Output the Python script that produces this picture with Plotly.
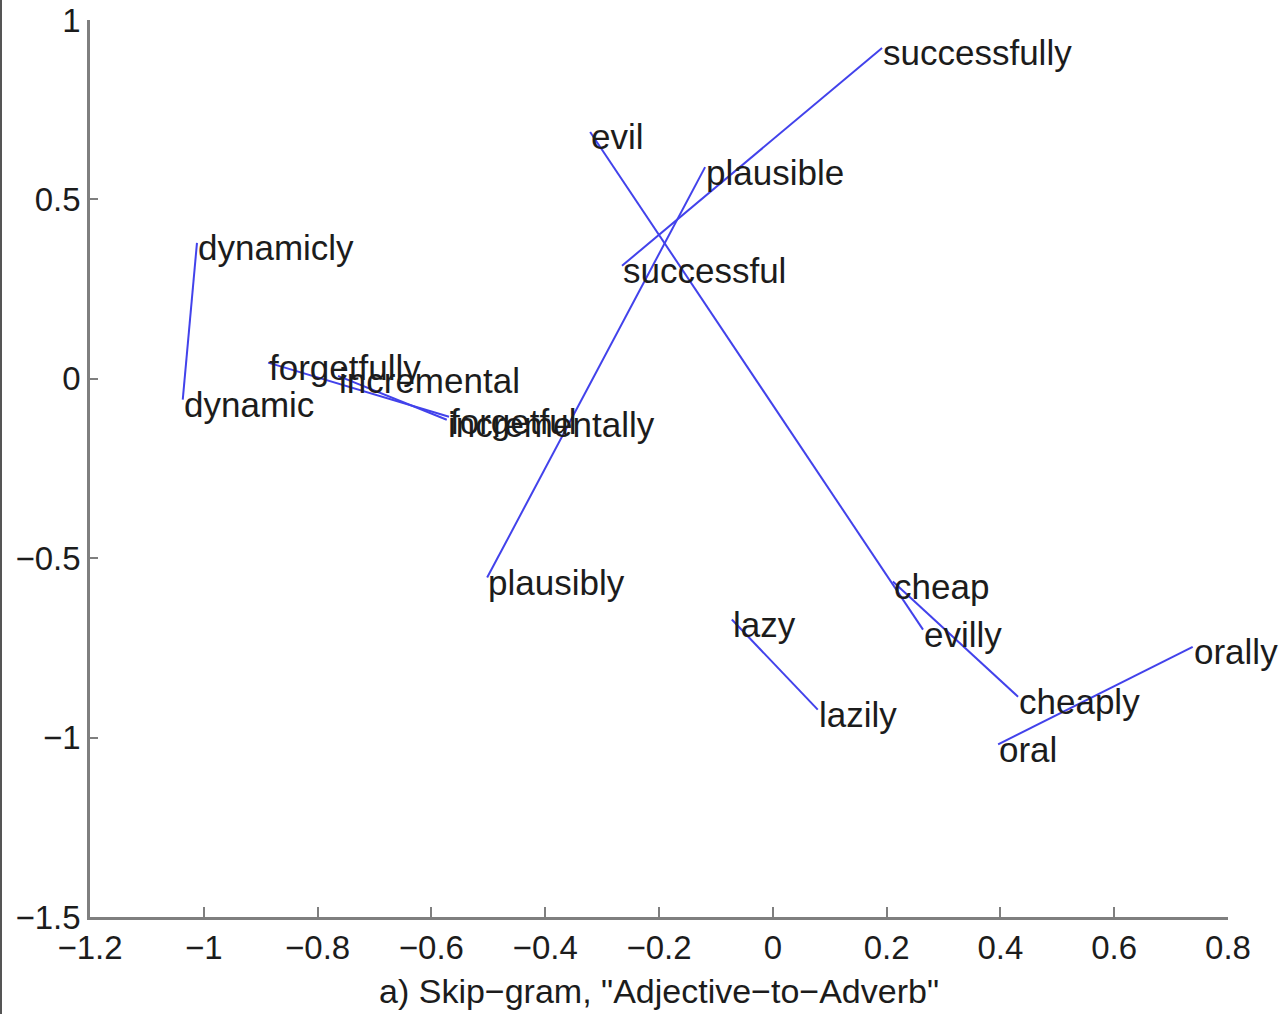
import plotly.graph_objects as go

# Word pairs (adjective -> adverb) projected to 2-D
adjectives = ["dynamic", "forgetful", "incremental", "plausible", "successful",
              "evil", "cheap", "oral", "lazy"]
adverbs = ["dynamicly", "forgetfully", "incrementally", "plausibly", "successfully",
           "evilly", "cheaply", "orally", "lazily"]

adj_x = [-1.037, -0.569, -0.764, -0.119, -0.265, -0.321, 0.211, 0.396, -0.072]
adj_y = [-0.058, -0.106, 0.008, 0.590, 0.315, 0.688, -0.565, -1.019, -0.671]
adv_x = [-1.012, -0.887, -0.573, -0.502, 0.192, 0.264, 0.431, 0.738, 0.079]
adv_y = [0.379, 0.045, -0.114, -0.554, 0.922, -0.699, -0.886, -0.747, -0.922]

x_ticks = [-1.2, -1.0, -0.8, -0.6, -0.4, -0.2, 0.0, 0.2, 0.4, 0.6, 0.8]
x_tick_labels = ["−1.2", "−1", "−0.8", "−0.6", "−0.4", "−0.2", "0", "0.2", "0.4", "0.6", "0.8"]
y_ticks = [-1.5, -1.0, -0.5, 0.0, 0.5, 1.0]
y_tick_labels = ["−1.5", "−1", "−0.5", "0", "0.5", "1"]

LINE_COLOR = "rgb(66,66,235)"
TEXT_COLOR = "#1c1c1c"
AXIS_COLOR = "#7f7f7f"
FONT = "Liberation Sans, Arial, sans-serif"

fig = go.Figure()

# connecting segments for each pair
for ax_, ay_, bx_, by_ in zip(adj_x, adj_y, adv_x, adv_y):
    fig.add_trace(go.Scatter(
        x=[ax_, bx_], y=[ay_, by_], mode="lines",
        line=dict(color=LINE_COLOR, width=2),
        hoverinfo="skip", showlegend=False, cliponaxis=False,
    ))

# word labels, left edge at each point
for wx, wy, word in zip(adj_x + adv_x, adj_y + adv_y, adjectives + adverbs):
    fig.add_annotation(
        x=wx, y=wy, text=word, showarrow=False,
        xanchor="left", yanchor="middle", xshift=-1, yshift=-5,
        font=dict(family=FONT, size=35, color=TEXT_COLOR),
    )

fig.update_layout(
    width=1279, height=1014,
    margin=dict(l=90, r=51, t=20, b=97, autoexpand=False),
    plot_bgcolor="white", paper_bgcolor="white",
    font=dict(family=FONT, color=TEXT_COLOR),
    showlegend=False,
)

fig.update_xaxes(
    range=[-1.2, 0.8], tickvals=x_ticks, ticktext=x_tick_labels,
    showgrid=False, zeroline=False, showline=True, automargin=False,
    linecolor=AXIS_COLOR, linewidth=2.5,
    ticks="inside", ticklen=10, tickwidth=1.5, tickcolor=AXIS_COLOR,
    tickfont=dict(family=FONT, size=33, color=TEXT_COLOR),
    title=dict(text='a) Skip−gram, "Adjective−to−Adverb"',
               font=dict(family=FONT, size=34, color=TEXT_COLOR), standoff=14),
)
fig.update_yaxes(
    range=[-1.5, 1.0], tickvals=y_ticks, ticktext=y_tick_labels,
    showgrid=False, zeroline=False, showline=True, automargin=False,
    linecolor=AXIS_COLOR, linewidth=2.5,
    ticks="inside", ticklen=8, tickwidth=1.5, tickcolor=AXIS_COLOR,
    tickfont=dict(family=FONT, size=33, color=TEXT_COLOR),
)

# thin frame edge on the left of the page
fig.add_shape(type="line", xref="paper", yref="paper",
              x0=-89 / 1138, x1=-89 / 1138, y0=-97 / 897, y1=1 + 20 / 897,
              line=dict(color="#555555", width=2))

fig.write_html("out.html")
